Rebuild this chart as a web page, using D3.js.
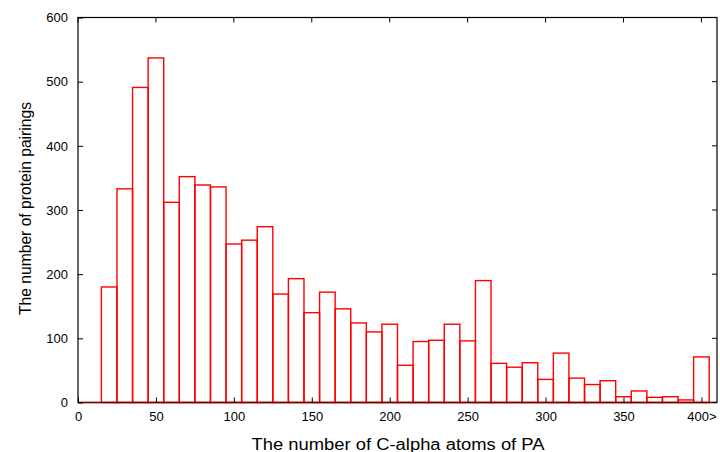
<!DOCTYPE html>
<html>
<head>
<meta charset="utf-8">
<script src="https://cdn.jsdelivr.net/npm/d3@7"></script>
<style>
  body { margin: 0; background: #fff; }
  svg { display: block; font-family: "Liberation Sans", Arial, sans-serif; }
</style>
</head>
<body>
<div id="viz"></div>
<script>
const width = 720;
const height = 452;
const margin = {top: 17.5, right: 2, bottom: 49.5, left: 78};

// Bin centres (bin width 10) and counts
const binCenters = [0, 10, 20, 30, 40, 50, 60, 70, 80, 90, 100, 110, 120, 130, 140, 150,
  160, 170, 180, 190, 200, 210, 220, 230, 240, 250, 260, 270, 280, 290, 300, 310,
  320, 330, 340, 350, 360, 370, 380, 390, 400];
const counts = [0, 0, 180, 333, 491, 537, 312, 352, 339, 336, 247, 253, 274, 169, 193, 140,
  172, 146, 124, 110, 122, 58, 95, 97, 122, 96, 190, 61, 55, 62, 36, 77,
  38, 28, 34, 9, 18, 8, 9, 4, 71];
const binWidth = 10;

const xTicks = [0, 50, 100, 150, 200, 250, 300, 350, 400];
const xTickLabels = ['0', '50', '100', '150', '200', '250', '300', '350', '400>'];
const yTicks = [0, 100, 200, 300, 400, 500, 600];

const svg = d3.select('#viz')
  .append('svg')
    .attr('width', width)
    .attr('height', height);

const xScale = d3.scaleLinear()
  .domain([0, 410])
  .range([margin.left, width - margin.right - 1]);
const yScale = d3.scaleLinear()
  .domain([0, 600])
  .range([height - margin.bottom, margin.top]);

const x0 = xScale.range()[0], x1 = xScale.range()[1];
const y0 = yScale.range()[0], y1 = yScale.range()[1];

// Bars (outline only)
svg.append('g')
    .attr('class', 'bars-group')
  .selectAll('rect')
  .data(binCenters)
  .join('rect')
    .attr('x', d => xScale(d - binWidth / 2))
    .attr('y', (d, i) => yScale(counts[i]))
    .attr('width', xScale(binWidth) - xScale(0))
    .attr('height', (d, i) => y0 - yScale(counts[i]))
    .attr('fill', 'none')
    .attr('stroke', '#ff0000')
    .attr('stroke-width', 1.4);

// Border
svg.append('rect')
    .attr('x', x0)
    .attr('y', y1)
    .attr('width', x1 - x0)
    .attr('height', y0 - y1)
    .attr('fill', 'none')
    .attr('stroke', '#000')
    .attr('stroke-width', 1.2);

// Baseline where the empty bins sit
svg.append('line')
    .attr('x1', x0).attr('x2', x1)
    .attr('y1', y0).attr('y2', y0)
    .attr('stroke', '#7a0000')
    .attr('stroke-width', 1.5);

// x ticks: bottom (inward) and mirrored on top
const xAxis = d3.axisBottom(xScale)
  .tickValues(xTicks)
  .tickSize(-5)
  .tickPadding(9)
  .tickFormat((d, i) => xTickLabels[i]);
const xAxisGroup = svg.append('g')
    .attr('class', 'x-axis-group')
    .attr('transform', `translate(0, ${y0})`)
    .style('font-size', '13px')
  .call(xAxis);
xAxisGroup.select('.domain').remove();
xAxisGroup.selectAll('text').attr('fill', '#000').attr('dy', '0.71em');

svg.append('g')
  .selectAll('line')
  .data(xTicks)
  .join('line')
    .attr('x1', d => xScale(d)).attr('x2', d => xScale(d))
    .attr('y1', y1).attr('y2', y1 + 5)
    .attr('stroke', '#000');

// y ticks: left (inward) and mirrored on the right
const yAxis = d3.axisLeft(yScale)
  .tickValues(yTicks)
  .tickSize(-5)
  .tickPadding(10);
const yAxisGroup = svg.append('g')
    .attr('class', 'y-axis-group')
    .attr('transform', `translate(${x0}, 0)`)
    .style('font-size', '13px')
  .call(yAxis);
yAxisGroup.select('.domain').remove();
yAxisGroup.selectAll('text').attr('fill', '#000');

svg.append('g')
  .selectAll('line')
  .data(yTicks)
  .join('line')
    .attr('x1', x1 - 5).attr('x2', x1)
    .attr('y1', d => yScale(d)).attr('y2', d => yScale(d))
    .attr('stroke', '#000');

// Axis titles
svg.append('text')
    .attr('x', 398)
    .attr('y', 450)
    .attr('text-anchor', 'middle')
    .attr('textLength', 293)
    .attr('lengthAdjust', 'spacingAndGlyphs')
    .style('font-size', '16px')
    .text('The number of C-alpha atoms of PA');

svg.append('text')
    .attr('transform', `translate(31, 208.5) rotate(-90)`)
    .attr('text-anchor', 'middle')
    .attr('textLength', 213)
    .attr('lengthAdjust', 'spacingAndGlyphs')
    .style('font-size', '17px')
    .text('The number of protein pairings');
</script>
</body>
</html>
